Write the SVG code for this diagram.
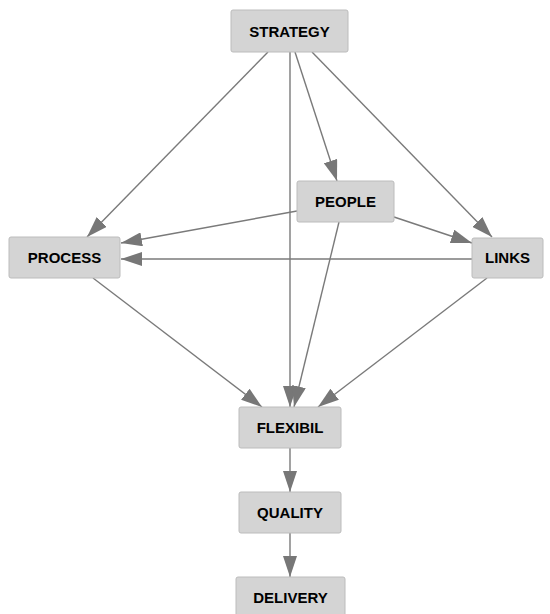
<svg xmlns="http://www.w3.org/2000/svg" width="550" height="614" viewBox="0 0 550 614">
<style>
.n rect{fill:#d4d4d4;stroke:#bcbcbc;stroke-width:1}
.n text{font-family:"Liberation Sans",Arial,sans-serif;font-weight:bold;font-size:15px;fill:#000;text-anchor:middle}
.e line{stroke:#7a7a7a;stroke-width:1.4;marker-end:url(#ah)}
</style>
<defs>
<marker id="ah" markerUnits="userSpaceOnUse" markerWidth="22" markerHeight="14" refX="21" refY="7" orient="auto">
<path d="M0,0 L21,7 L0,14 z" fill="#777"/>
</marker>
</defs>
<rect width="550" height="614" fill="#fff"/>
<g class="e" id="connectors">
<line x1="268" y1="52" x2="87" y2="237"/>
<line x1="290" y1="52" x2="290" y2="407"/>
<line x1="295" y1="52" x2="337" y2="181"/>
<line x1="312" y1="52" x2="492" y2="237"/>
<line x1="297" y1="211" x2="121" y2="243"/>
<line x1="472" y1="259" x2="121" y2="259"/>
<line x1="394" y1="217" x2="472" y2="243"/>
<line x1="339" y1="222" x2="294" y2="407"/>
<line x1="93" y1="278" x2="262" y2="407"/>
<line x1="487" y1="278" x2="318" y2="407"/>
<line x1="290" y1="448" x2="290" y2="492"/>
<line x1="290" y1="533" x2="290" y2="577"/>
</g>
<g class="n" id="strategy"><rect x="231" y="10" width="117" height="42" rx="2"/><text x="289.5" y="37">STRATEGY</text></g>
<g class="n" id="people"><rect x="297" y="181" width="97" height="41" rx="2"/><text x="345.5" y="207">PEOPLE</text></g>
<g class="n" id="process"><rect x="9" y="237" width="111" height="41" rx="2"/><text x="64.5" y="263">PROCESS</text></g>
<g class="n" id="links"><rect x="472" y="238" width="71" height="40" rx="2"/><text x="507.5" y="263">LINKS</text></g>
<g class="n" id="flexibil"><rect x="239" y="407" width="102" height="41" rx="2"/><text x="290" y="433">FLEXIBIL</text></g>
<g class="n" id="quality"><rect x="239" y="492" width="102" height="41" rx="2"/><text x="290" y="518">QUALITY</text></g>
<g class="n" id="delivery"><rect x="236" y="577" width="109" height="41" rx="2"/><text x="290.5" y="603">DELIVERY</text></g>
</svg>
